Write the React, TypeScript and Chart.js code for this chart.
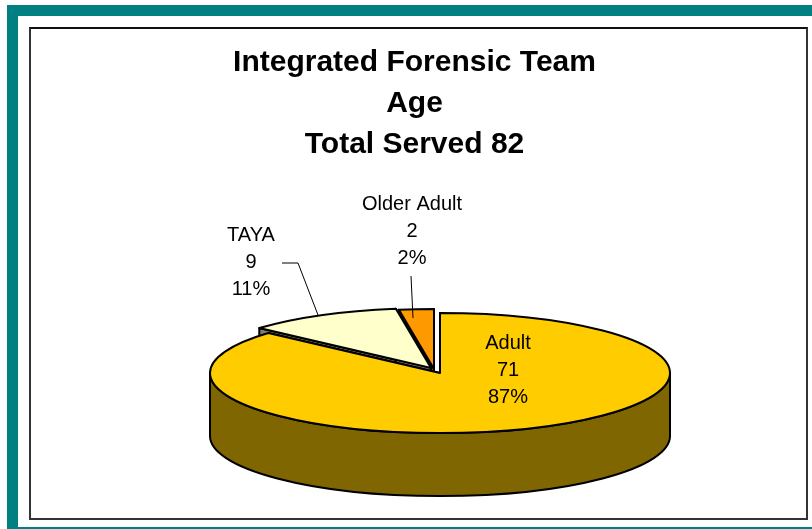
import React, { useEffect, useRef } from "react";
import { Chart, registerables } from "chart.js";

Chart.register(...registerables);

const categories = ["Adult", "TAYA", "Older Adult"];
const served = [71, 9, 2];
const percentLabels = ["87%", "11%", "2%"];
const titleLines = ["Integrated Forensic Team", "Age", "Total Served 82"];
const topColors = ["#FFCC00", "#FFFFCC", "#FF9900"];
const wallColors = ["#806600", "#808066", "#804C00"];

const FONT = "'Liberation Sans', Arial, sans-serif";
const PIE = { cx: 440, cy: 373, rx: 230, ry: 60, depth: 63 };
const sliceShift = [[0, 0], [-9, -5], [-6, -4]];
const labelSpots = [[508, 343], [251, 235], [412, 204]];
const leaders = [
  null,
  [[282, 263], [298, 263], [318, 315]],
  [[411, 276], [413, 318]],
];

const pie3d = {
  id: "pie3d",
  beforeDatasetsDraw(chart: any) {
    const ctx = chart.ctx;
    const arcs = chart.getDatasetMeta(0).data;
    const centerOf = (i: number) => [PIE.cx + sliceShift[i][0], PIE.cy + sliceShift[i][1]];
    const ptOf = (i: number, a: number) => {
      const [x, y] = centerOf(i);
      return [x + PIE.rx * Math.cos(a), y + PIE.ry * Math.sin(a)];
    };
    const finish = (fill: string) => {
      ctx.fillStyle = fill;
      ctx.fill();
      ctx.lineWidth = 2;
      ctx.strokeStyle = "#000";
      ctx.lineJoin = "round";
      ctx.stroke();
    };
    const quad = (p: number[], q: number[], fill: string) => {
      ctx.beginPath();
      ctx.moveTo(p[0], p[1]);
      ctx.lineTo(q[0], q[1]);
      ctx.lineTo(q[0], q[1] + PIE.depth);
      ctx.lineTo(p[0], p[1] + PIE.depth);
      ctx.closePath();
      finish(fill);
    };
    const walls = (i: number) => {
      const el = arcs[i];
      const c = centerOf(i);
      const fill = wallColors[i];
      quad(c, ptOf(i, el.startAngle), fill);
      quad(c, ptOf(i, el.endAngle), fill);
      // the part of the rim that faces the viewer
      const from = Math.max(el.startAngle, 0);
      const to = Math.min(el.endAngle, Math.PI);
      if (to > from) {
        ctx.beginPath();
        ctx.ellipse(c[0], c[1], PIE.rx, PIE.ry, 0, from, to);
        ctx.ellipse(c[0], c[1] + PIE.depth, PIE.rx, PIE.ry, 0, to, from, true);
        ctx.closePath();
        finish(fill);
      }
    };
    const top = (i: number) => {
      const el = arcs[i];
      const c = centerOf(i);
      ctx.beginPath();
      ctx.moveTo(c[0], c[1]);
      ctx.ellipse(c[0], c[1], PIE.rx, PIE.ry, 0, el.startAngle, el.endAngle);
      ctx.closePath();
      finish(el.options.backgroundColor);
    };
    ctx.save();
    walls(2);
    walls(1);
    top(1);
    top(2);
    walls(0);
    top(0);
    ctx.restore();
    return false;
  },
  afterDraw(chart: any) {
    const ctx = chart.ctx;
    ctx.save();
    ctx.strokeStyle = "#000";
    ctx.lineWidth = 1;
    leaders.forEach((line) => {
      if (!line) return;
      ctx.beginPath();
      line.forEach((p, j) => (j ? ctx.lineTo(p[0], p[1]) : ctx.moveTo(p[0], p[1])));
      ctx.stroke();
    });
    ctx.fillStyle = "#000";
    ctx.font = `20px ${FONT}`;
    ctx.textAlign = "center";
    ctx.textBaseline = "middle";
    categories.forEach((name, i) => {
      const [x, y] = labelSpots[i];
      ctx.fillText(name, x, y);
      ctx.fillText(String(served[i]), x, y + 27);
      ctx.fillText(percentLabels[i], x, y + 54);
    });
    ctx.restore();
  },
};

export default function App() {
  const ref = useRef<HTMLCanvasElement>(null);
  useEffect(() => {
    const chart = new Chart(ref.current as HTMLCanvasElement, {
      type: "pie",
      data: {
        labels: categories,
        datasets: [{ data: served, backgroundColor: topColors, borderWidth: 0 }],
      },
      options: {
        animation: false,
        responsive: false,
        events: [],
        layout: { padding: { left: 17, top: 0 } },
        plugins: {
          legend: { display: false },
          tooltip: { enabled: false },
          title: {
            display: true,
            text: titleLines,
            color: "#000",
            font: { family: FONT, size: 30, weight: "bold", lineHeight: 1.37 },
            padding: { top: 42, bottom: 10 },
          },
        },
      },
      plugins: [pie3d],
    } as any);
    return () => chart.destroy();
  }, []);
  return (
    <div style={{ position: "absolute", left: 0, top: 0, width: 812, height: 529, overflow: "hidden", background: "#fff" }}>
      <div style={{ position: "absolute", left: 7, top: 5, width: 900, height: 600, boxSizing: "border-box", border: "11px solid #008080" , borderBottomWidth: 0, borderRightWidth: 0 }} />
      <div style={{ position: "absolute", left: 7, top: 527, width: 805, height: 2, background: "#008080" }} />
      <div style={{ position: "absolute", left: 29, top: 27, width: 779, height: 493, boxSizing: "border-box", border: "2px solid #333", borderTopColor: "#111" }} />
      <canvas ref={ref} width={812} height={529} style={{ position: "absolute", left: 0, top: 0, display: "block" }} />
    </div>
  );
}
